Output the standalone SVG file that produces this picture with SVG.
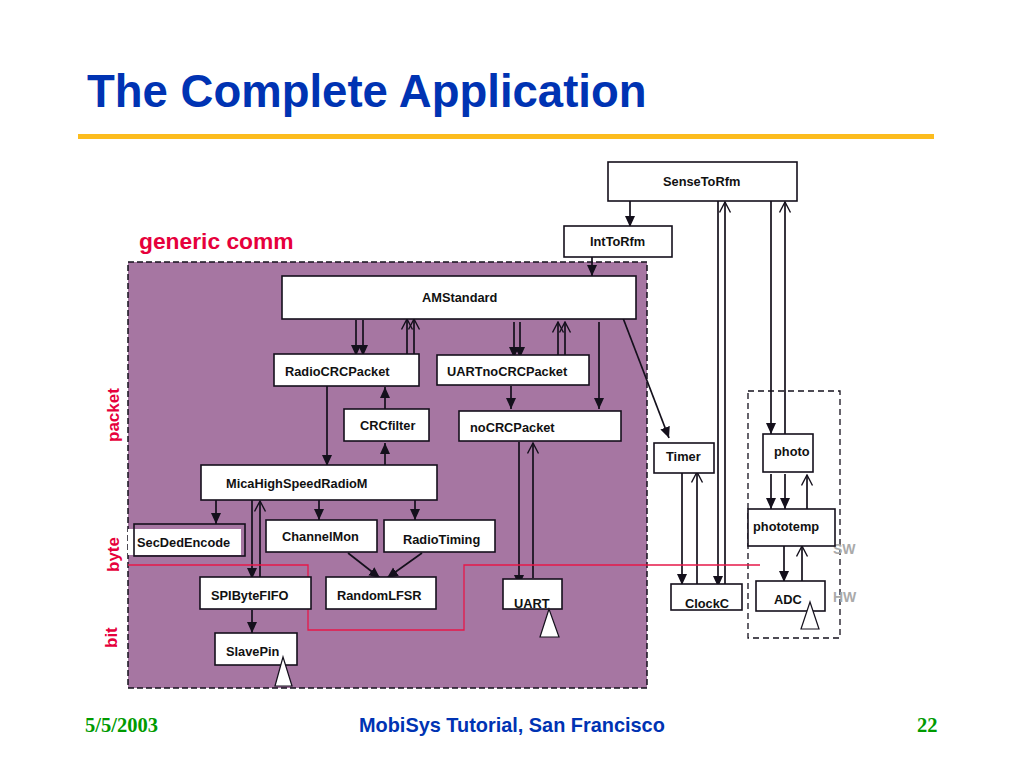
<svg xmlns="http://www.w3.org/2000/svg" width="1024" height="768" viewBox="0 0 1024 768">
<style>
text{font-family:"Liberation Sans",Arial,sans-serif;font-weight:bold}
.b{fill:#fff;stroke:#14101c;stroke-width:1.6}
.l{font-size:12.8px;fill:#111}
.c{stroke:#14101c;stroke-width:1.7;fill:none}
.f{marker-end:url(#s)}
.o{marker-end:url(#o)}
.r{fill:#e6003c}
.t{fill:#fff;stroke:#14101c;stroke-width:1.2}
.g{fill:#aaa;font-size:14px}
.d{font-family:"Liberation Serif",serif;fill:#009a00;font-size:20.5px}
</style>
<defs>
<marker id="s" markerUnits="userSpaceOnUse" markerWidth="12" markerHeight="12" refX="11" refY="5" orient="auto"><path d="M0 0L11 5L0 10Z" fill="#14101c"/></marker>
<marker id="o" markerUnits="userSpaceOnUse" markerWidth="12" markerHeight="14" refX="10.5" refY="6" orient="auto"><path d="M0 .5L10.5 6L0 11.5" fill="none" stroke="#14101c" stroke-width="1.4"/></marker>
</defs>
<rect width="1024" height="768" fill="#fff"/>
<text x="87" y="107" font-size="45.5" fill="#0033b3">The Complete Application</text>
<rect x="78" y="134" width="856" height="5" fill="#fcbc1e"/>
<rect x="128" y="262" width="519" height="426" fill="#a676a2" stroke="#14101c" stroke-width="1.5" stroke-dasharray="6 3"/>
<rect x="748" y="391" width="92" height="247" fill="none" stroke="#14101c" stroke-width="1.3" stroke-dasharray="6 4"/>
<text x="139" y="249" font-size="22.8" fill="#e6003c">generic comm</text>
<text class="r" font-size="17" transform="translate(119 442) rotate(-90)">packet</text>
<text class="r" font-size="17" transform="translate(119 572) rotate(-90)">byte</text>
<text class="r" font-size="17" transform="translate(117 648) rotate(-90)">bit</text>
<text class="g" x="833" y="554">SW</text>
<text class="g" x="833" y="602">HW</text>

<g id="connectors">
<path class="c f" d="M630 201V227"/>
<path class="c f" d="M592 253V276"/>
<path class="c f" d="M718 201V587"/>
<path class="c o" d="M725 584V202"/>
<path class="c f" d="M771 201V434"/>
<path class="c o" d="M785 434V202"/>
<path class="c f" d="M623 318L669 438"/>
<path class="c f" d="M356 320V356"/>
<path class="c f" d="M363 320V356"/>
<path class="c o" d="M407 354V319"/>
<path class="c o" d="M414 354V319"/>
<path class="c f" d="M327 386V466"/>
<path class="c f" d="M385 409V387"/>
<path class="c f" d="M385 465V443"/>
<path class="c f" d="M514 322V358"/>
<path class="c f" d="M520 322V358"/>
<path class="c o" d="M558 357V322"/>
<path class="c o" d="M565 357V322"/>
<path class="c f" d="M599 322V409"/>
<path class="c f" d="M511 386V409"/>
<path class="c f" d="M519 442V586"/>
<path class="c o" d="M533 578V443"/>
<path class="c f" d="M682 473V585"/>
<path class="c o" d="M697 584V472"/>
<path class="c f" d="M771 474V509"/>
<path class="c f" d="M785 474V509"/>
<path class="c o" d="M807 509V475"/>
<path class="c f" d="M784 546V582"/>
<path class="c o" d="M802 581V546"/>
<path class="c f" d="M216 500V524"/>
<path class="c f" d="M319 498V520"/>
<path class="c f" d="M415 498V520"/>
<path class="c f" d="M252 500V579"/>
<path class="c o" d="M260 578V501"/>
<path class="c f" d="M348 553L380 578"/>
<path class="c f" d="M422 553L387 578"/>
<path class="c f" d="M252 610V633"/>
<path d="M128 565H308V630H464V565H760" fill="none" stroke="#e6184a" stroke-width="1.3"/>
</g>

<g id="SenseToRfm"><rect class="b" x="608" y="162" width="189" height="39"/><text class="l" x="663" y="186">SenseToRfm</text></g>
<g id="IntToRfm"><rect class="b" x="564" y="226" width="108" height="31"/><text class="l" x="590" y="246">IntToRfm</text></g>
<g id="AMStandard"><rect class="b" x="282" y="276" width="354" height="43"/><text class="l" x="422" y="302">AMStandard</text></g>
<g id="RadioCRCPacket"><rect class="b" x="274" y="354" width="145" height="32"/><text class="l" x="285" y="376">RadioCRCPacket</text></g>
<g id="UARTnoCRCPacket"><rect class="b" x="437" y="355" width="152" height="30"/><text class="l" x="447" y="376">UARTnoCRCPacket</text></g>
<g id="CRCfilter"><rect class="b" x="344" y="409" width="85" height="32"/><text class="l" x="360" y="430">CRCfilter</text></g>
<g id="noCRCPacket"><rect class="b" x="459" y="411" width="162" height="30"/><text class="l" x="470" y="432">noCRCPacket</text></g>
<g id="MicaHighSpeedRadioM"><rect class="b" x="201" y="465" width="236" height="35"/><text class="l" x="226" y="488">MicaHighSpeedRadioM</text></g>
<g id="SecDedEncode"><rect x="128" y="529" width="113" height="26" fill="#fff"/><rect x="134" y="524" width="111" height="32" fill="none" stroke="#14101c" stroke-width="1.6"/><text class="l" x="137" y="547">SecDedEncode</text></g>
<g id="ChannelMon"><rect class="b" x="266" y="520" width="111" height="32"/><text class="l" x="282" y="541">ChannelMon</text></g>
<g id="RadioTiming"><rect class="b" x="384" y="520" width="111" height="32"/><text class="l" x="403" y="544">RadioTiming</text></g>
<g id="SPIByteFIFO"><rect class="b" x="200" y="577" width="111" height="32"/><text class="l" x="211" y="600">SPIByteFIFO</text></g>
<g id="RandomLFSR"><rect class="b" x="326" y="577" width="110" height="32"/><text class="l" x="337" y="600">RandomLFSR</text></g>
<g id="SlavePin"><rect class="b" x="215" y="633" width="82" height="32"/><text class="l" x="226" y="656">SlavePin</text><path class="t" d="M283 657L275 686H292Z"/></g>
<g id="UART"><rect class="b" x="503" y="579" width="59" height="30"/><text class="l" x="514" y="608">UART</text><path class="t" d="M549 609L540 637H559Z"/></g>
<g id="Timer"><rect class="b" x="654" y="443" width="60" height="30"/><text class="l" x="666" y="461">Timer</text></g>
<g id="ClockC"><rect class="b" x="671" y="584" width="71" height="26"/><text class="l" x="685" y="608">ClockC</text></g>
<g id="photo"><rect class="b" x="763" y="434" width="50" height="38"/><text class="l" x="774" y="456">photo</text></g>
<g id="phototemp"><rect class="b" x="748" y="509" width="87" height="37"/><text class="l" x="753" y="531">phototemp</text></g>
<g id="ADC"><rect class="b" x="756" y="581" width="69" height="30"/><text class="l" x="774" y="604">ADC</text><path class="t" d="M810 602L801 629H819Z"/></g>

<text class="d" x="85" y="732">5/5/2003</text>
<text x="359" y="732" font-size="19.9" fill="#0033b3">MobiSys Tutorial, San Francisco</text>
<text class="d" x="917" y="732">22</text>
</svg>
